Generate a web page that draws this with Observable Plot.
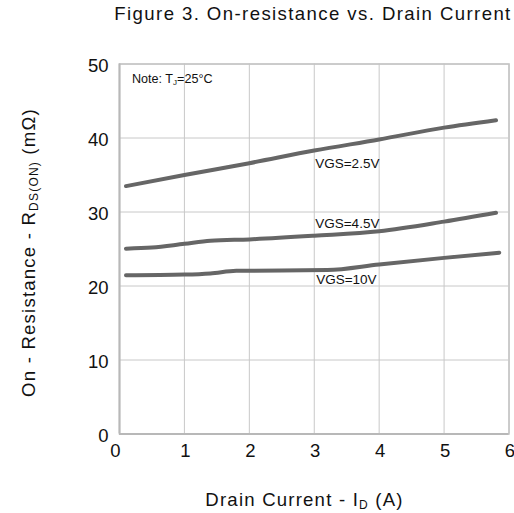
<!DOCTYPE html>
<html>
<head>
<meta charset="utf-8">
<script src="https://cdn.jsdelivr.net/npm/d3@7"></script>
<script src="https://cdn.jsdelivr.net/npm/@observablehq/plot@0.6"></script>
<style>
  html, body { margin: 0; padding: 0; background: #fff; }
</style>
</head>
<body>
<div id="chart"></div>
<script>
const xTicks = [0, 1, 2, 3, 4, 5, 6];
const yTicks = [0, 10, 20, 30, 40, 50];

const id25 = [0.1, 1, 2, 3, 4, 5, 5.8];
const r25  = [33.5, 35.0, 36.6, 38.3, 39.8, 41.4, 42.4];

const id45 = [0.1, 0.5, 1, 1.4, 2, 3, 4, 5, 5.8];
const r45  = [25.05, 25.2, 25.7, 26.1, 26.3, 26.8, 27.4, 28.7, 29.9];

const id10 = [0.1, 1, 1.4, 1.8, 3.2, 4, 5, 5.85];
const r10  = [21.45, 21.55, 21.7, 22.05, 22.15, 22.9, 23.8, 24.5];

const seriesNames = ["VGS=2.5V", "VGS=4.5V", "VGS=10V"];
const labelX = [3.015, 3.015, 3.03];
const labelY = [36.5, 28.4, 20.8];

const toRows = (name, xs, ys) => xs.map((x, i) => ({series: name, id: x, r: ys[i]}));
const rows = [
  ...toRows(seriesNames[0], id25, r25),
  ...toRows(seriesNames[1], id45, r45),
  ...toRows(seriesNames[2], id10, r10)
];
const labels = seriesNames.map((s, i) => ({s, x: labelX[i], y: labelY[i]}));

const W = 514, H = 513;
const mL = 119, mR = 5.5, mT = 63.5, mB = 79.5;
const ff = "Liberation Sans, Arial, sans-serif";

const plot = Plot.plot({
  width: W,
  height: H,
  marginLeft: mL,
  marginRight: mR,
  marginTop: mT,
  marginBottom: mB,
  style: {fontFamily: ff, background: "#fff"},
  x: {domain: [0, 6], ticks: xTicks, label: null},
  y: {domain: [0, 50], ticks: yTicks, label: null},
  marks: [
    Plot.gridX(xTicks, {stroke: "#c8c8c8", strokeOpacity: 1, strokeWidth: 1}),
    Plot.gridY(yTicks, {stroke: "#c8c8c8", strokeOpacity: 1, strokeWidth: 1}),
    Plot.frame({stroke: "#c4c4c4", strokeWidth: 1.5}),
    Plot.ruleX([0], {stroke: "#b8b8b8", strokeWidth: 2}),
    Plot.ruleY([0], {stroke: "#b8b8b8", strokeWidth: 2}),
    Plot.axisX([0], {tickSize: 0, tickPadding: 10, fontSize: 18.5, fill: "#111", dx: -4}),
    Plot.axisX(xTicks.slice(1), {tickSize: 0, tickPadding: 10, fontSize: 18.5, fill: "#111", dx: 1}),
    Plot.axisY(yTicks, {tickSize: 0, tickPadding: 11, fontSize: 18.5, fill: "#111", dy: 2}),
    Plot.line(rows, {x: "id", y: "r", z: "series", stroke: "#666", strokeWidth: 4, curve: "monotone-x", strokeLinecap: "round"}),
    Plot.text(labels, {x: "x", y: "y", text: "s", textAnchor: "start", fontSize: 13.5, fill: "#111"})
  ]
});

const svg = d3.select(plot);

// Title
svg.append("text")
  .attr("x", 313).attr("y", 19.5)
  .attr("text-anchor", "middle")
  .attr("font-family", ff).attr("font-size", 18.6).attr("fill", "#111")
  .attr("letter-spacing", "1.4px")
  .text("Figure 3. On-resistance vs. Drain Current");

// Note
const note = svg.append("text")
  .attr("x", 132).attr("y", 83)
  .attr("text-anchor", "start")
  .attr("font-family", ff).attr("font-size", 12.6).attr("fill", "#111");
note.append("tspan").text("Note: T");
note.append("tspan").attr("font-size", 8).attr("dy", 2).text("J");
note.append("tspan").attr("dy", -2).text("=25°C");

// X label
const xl = svg.append("text")
  .attr("x", 304.5).attr("y", 506)
  .attr("text-anchor", "middle")
  .attr("font-family", ff).attr("font-size", 18.6).attr("fill", "#111")
  .attr("letter-spacing", "1.2px");
xl.append("tspan").text("Drain Current - I");
xl.append("tspan").attr("font-size", 12).attr("dy", 3).text("D");
xl.append("tspan").attr("dy", -3).text(" (A)");

// Y label
const yl = svg.append("text")
  .attr("transform", "translate(35,252.5) rotate(-90)")
  .attr("text-anchor", "middle")
  .attr("font-family", ff).attr("font-size", 18.6).attr("fill", "#111")
  .attr("letter-spacing", "1.2px");
yl.append("tspan").text("On - Resistance - R");
yl.append("tspan").attr("font-size", 12).attr("dy", 3).text("DS(ON)");
yl.append("tspan").attr("dy", -3).text(" (mΩ)");

document.getElementById("chart").appendChild(plot);
</script>
</body>
</html>
